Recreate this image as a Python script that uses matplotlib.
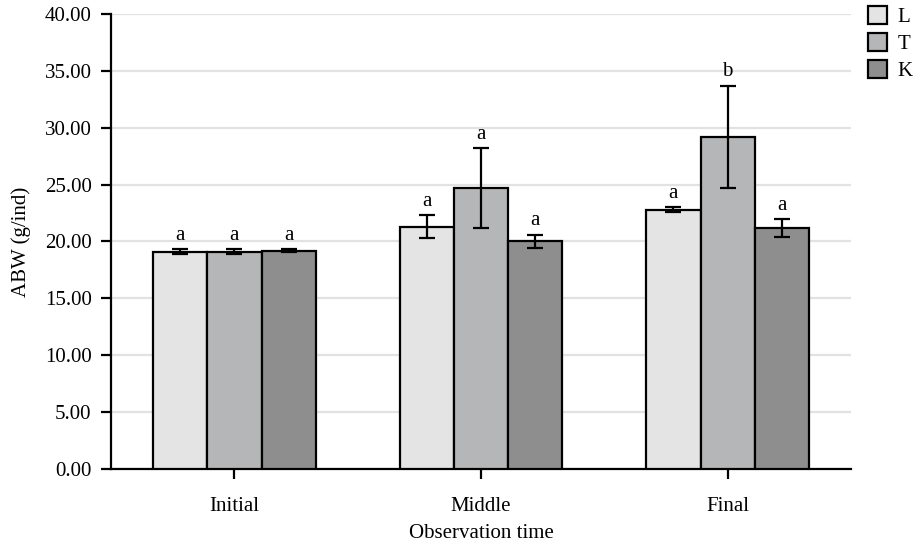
import numpy as np
import matplotlib.pyplot as plt

# data
times = ["Initial", "Middle", "Final"]
groups = ["L", "T", "K"]
mean_L = [19.1, 21.3, 22.8]
mean_T = [19.1, 24.7, 29.2]
mean_K = [19.2, 20.0, 21.2]
err_L = [0.2, 1.0, 0.25]
err_T = [0.2, 3.5, 4.5]
err_K = [0.1, 0.6, 0.8]
letters_L = ["a", "a", "a"]
letters_T = ["a", "a", "b"]
letters_K = ["a", "a", "a"]

means = [mean_L, mean_T, mean_K]
errs = [err_L, err_T, err_K]
letters = [letters_L, letters_T, letters_K]
colors = ["#e4e4e4", "#b5b6b8", "#8e8e8e"]

plt.rcParams['font.family'] = ['Liberation Serif', 'DejaVu Serif']
plt.rcParams['font.size'] = 15

fig = plt.figure(figsize=(9.18, 5.47), dpi=100)
ax = fig.add_axes([0.121, 0.1426, 0.806, 0.832])

x = np.arange(len(times))
width = 0.22
for i, g in enumerate(groups):
    pos = x + (i - 1) * width
    ax.bar(pos, means[i], width, color=colors[i], edgecolor="black",
           linewidth=1.6, label=g, zorder=3)
    ax.errorbar(pos, means[i], yerr=errs[i], fmt="none", ecolor="black",
                elinewidth=1.6, capsize=6, capthick=1.6, zorder=4)
    for p, m, e, t in zip(pos, means[i], errs[i], letters[i]):
        ax.annotate(t, (p, m + e), xytext=(0, 3), textcoords="offset points",
                    ha="center", va="bottom", fontsize=15)

ax.set_xlim(-0.5, 2.5)
ax.set_ylim(0, 40)
ax.set_yticks(np.arange(0, 41, 5))
ax.set_yticklabels([f"{v:.2f}" for v in np.arange(0, 41, 5)])
ax.set_xticks(x)
ax.set_xticklabels(times)
ax.yaxis.grid(True, color="#e2e2e2", linewidth=1.6, zorder=0)
ax.set_axisbelow(True)
for s in ["top", "right"]:
    ax.spines[s].set_visible(False)
for s in ["left", "bottom"]:
    ax.spines[s].set_linewidth(1.6)
ax.tick_params(width=1.6, length=7, direction="out", pad=7)
ax.tick_params(axis="x", pad=13)
ax.set_xlabel("Observation time", labelpad=6)
ax.set_ylabel("ABW (g/ind)", labelpad=10)

ax.legend(loc="upper left", bbox_to_anchor=(1.012, 1.035), frameon=False,
          handlelength=0.9, handleheight=0.9, handletextpad=0.5,
          labelspacing=0.3, borderaxespad=0)

fig.savefig("out.png", dpi=100)
